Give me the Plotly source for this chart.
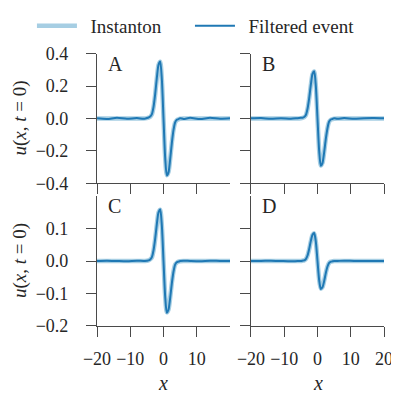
import plotly.graph_objects as go
from plotly.subplots import make_subplots

# grid along x (shared by all four panels)
x_vals = [-20, -17, -14, -11, -8, -6, -5, -4.5, -4, -3.5, -3, -2.5, -2, -1.5, -1, -0.5,
          0, 0.5, 1, 1.5, 2, 2.5, 3, 3.5, 4, 4.5, 5, 6, 8, 11, 14, 17, 20]

# instanton profiles
inst_a = [0, 0, 0, 0, 0, 0, 0.002, 0.005, 0.01, 0.025, 0.07, 0.15, 0.25, 0.33, 0.35, 0.24,
          0, -0.24, -0.35, -0.33, -0.25, -0.15, -0.07, -0.025, -0.01, -0.005, -0.002, 0, 0, 0, 0, 0, 0]
inst_b = [0, 0, 0, 0, 0, 0, 0.002, 0.004, 0.008, 0.02, 0.058, 0.124, 0.207, 0.273, 0.29, 0.199,
          0, -0.199, -0.29, -0.273, -0.207, -0.124, -0.058, -0.02, -0.008, -0.004, -0.002, 0, 0, 0, 0, 0, 0]
inst_c = [0, 0, 0, 0, 0, 0, 0.001, 0.002, 0.005, 0.011, 0.032, 0.068, 0.113, 0.149, 0.158, 0.108,
          0, -0.108, -0.158, -0.149, -0.113, -0.068, -0.032, -0.011, -0.005, -0.002, -0.001, 0, 0, 0, 0, 0, 0]
inst_d = [0, 0, 0, 0, 0, 0, 0, 0.001, 0.002, 0.006, 0.017, 0.036, 0.061, 0.08, 0.085, 0.058,
          0, -0.058, -0.085, -0.08, -0.061, -0.036, -0.017, -0.006, -0.002, -0.001, 0, 0, 0, 0, 0, 0, 0]

# filtered events (noisy baseline in A and B)
filt_a = [0.001, -0.003, 0.004, -0.002, 0.003, -0.002, 0.003, 0.006, 0.012, 0.027, 0.072, 0.152, 0.252, 0.332, 0.352, 0.242,
          0, -0.242, -0.352, -0.333, -0.252, -0.152, -0.072, -0.024, -0.008, -0.004, 0.002, -0.003, 0.004, -0.003, 0.004, -0.002, 0.001]
filt_b = [0.001, 0.003, -0.002, 0.002, -0.002, 0.002, 0.004, 0.005, 0.009, 0.021, 0.06, 0.126, 0.209, 0.275, 0.292, 0.2,
          0, -0.2, -0.292, -0.275, -0.209, -0.126, -0.06, -0.019, -0.006, -0.003, 0.002, -0.002, 0.003, -0.002, 0.002, 0.003, 0.001]
filt_c = [0, 0.001, 0, -0.001, 0.001, 0, 0.001, 0.002, 0.005, 0.012, 0.033, 0.069, 0.114, 0.15, 0.159, 0.109,
          0, -0.109, -0.159, -0.15, -0.114, -0.069, -0.033, -0.011, -0.004, -0.002, 0, 0.001, 0, -0.001, 0.001, 0, 0]
filt_d = [0, 0, 0.001, 0, -0.001, 0, 0, 0.001, 0.002, 0.006, 0.017, 0.037, 0.062, 0.081, 0.086, 0.059,
          0, -0.059, -0.086, -0.081, -0.062, -0.037, -0.017, -0.006, -0.002, -0.001, 0, 0, 0.001, 0, 0, 0, 0]

panel_labels = ['A', 'B', 'C', 'D']

LIGHT = '#a6cee3'
DARK = '#1f78b4'
AX = '#4a4a4a'
TXT = '#262626'
FONT = 'Liberation Serif'

fig = make_subplots(rows=2, cols=2)

# legend names padded with no-break spaces to space the entries like the reference
panels = [(inst_a, filt_a), (inst_b, filt_b), (inst_c, filt_c), (inst_d, filt_d)]
for i, (inst, filt) in enumerate(panels):
    r, c = i // 2 + 1, i % 2 + 1
    fig.add_trace(go.Scatter(x=x_vals, y=inst, mode='lines',
                             name='\u00a0\u2009Instanton' + '\u00a0' * 5,
                             line=dict(color=LIGHT, width=4.5, shape='spline', smoothing=0.7),
                             showlegend=(i == 0)), row=r, col=c)
    fig.add_trace(go.Scatter(x=x_vals, y=filt, mode='lines', name='\u00a0\u2009Filtered event',
                             line=dict(color=DARK, width=2, shape='spline', smoothing=0.7),
                             showlegend=(i == 0)), row=r, col=c)

# panel positions (paper fractions; the page sits 8px in from the window corner)
xdom = [[0.2231, 0.5564], [0.6090, 0.9424]]
ydom = [[0.5607, 0.8855], [0.2030, 0.5288]]

for i in range(4):
    r, c = i // 2 + 1, i % 2 + 1
    fig.update_xaxes(domain=xdom[c - 1], range=[-20, 20],
                     tickvals=[-20, -10, 0, 10] if c == 1 else [-20, -10, 0, 10, 20],
                     showticklabels=(r == 2), row=r, col=c)
    if r == 1:
        fig.update_yaxes(domain=ydom[0], range=[-0.4, 0.4], tickvals=[-0.4, -0.2, 0, 0.2, 0.4],
                         showticklabels=(c == 1), row=r, col=c)
    else:
        fig.update_yaxes(domain=ydom[1], range=[-0.2, 0.2], tickvals=[-0.2, -0.1, 0, 0.1],
                         showticklabels=(c == 1), row=r, col=c)

fig.update_xaxes(showgrid=False, zeroline=False, showline=True, linecolor=AX, linewidth=1.2,
                 ticks='outside', ticklen=10, tickwidth=1.2, tickcolor=AX,
                 tickfont=dict(family=FONT, size=18, color=TXT), ticklabelstandoff=6)
fig.update_yaxes(showgrid=False, zeroline=False, showline=True, linecolor=AX, linewidth=1.2,
                 ticks='outside', ticklen=10, tickwidth=1.2, tickcolor=AX, tickformat='.1f',
                 tickfont=dict(family=FONT, size=18, color=TXT), ticklabelstandoff=14)

anns = []
for i, lab in enumerate(panel_labels):
    xref = 'x domain' if i == 0 else 'x%d domain' % (i + 1)
    yref = 'y domain' if i == 0 else 'y%d domain' % (i + 1)
    anns.append(dict(text=lab, x=0.065, y=1.0, xref=xref, yref=yref, xanchor='left', yanchor='top',
                     yshift=3, showarrow=False, font=dict(family=FONT, size=20, color=TXT)))

ytitle = '<i>u</i>(<i>x</i>, <i>t</i> = 0)'
for yc in [0.7231, 0.3659]:
    anns.append(dict(text=ytitle, x=0.0301, y=yc, xref='paper', yref='paper', textangle=-90,
                     xanchor='center', yanchor='middle',
                     showarrow=False, font=dict(family=FONT, size=19, color=TXT)))
for xc in [0.3897, 0.7757]:
    anns.append(dict(text='<i>x</i>', x=xc, y=0.0602, xref='paper', yref='paper',
                     xanchor='center', yanchor='middle',
                     showarrow=False, font=dict(family=FONT, size=20, color=TXT)))

fig.update_layout(
    width=399, height=399,
    margin=dict(l=0, r=0, t=0, b=0, autoexpand=False),
    plot_bgcolor='white', paper_bgcolor='white',
    annotations=anns,
    legend=dict(orientation='h', x=0.06, y=1.0025, xanchor='left', yanchor='top',
                font=dict(family=FONT, size=19, color=TXT), itemwidth=40,
                bgcolor='rgba(0,0,0,0)'),
)

fig.write_html("out.html")
